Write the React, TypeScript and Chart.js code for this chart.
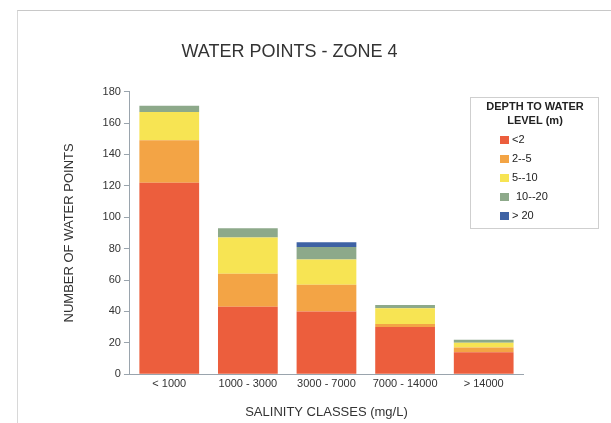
import React, { useEffect, useRef } from "react";
import { Chart, registerables } from "chart.js";

Chart.register(...registerables);

const categories = ["< 1000", "1000 - 3000", "3000 - 7000", "7000 - 14000", "> 14000"];
const seriesLabels = ["<2", "2--5", "5--10", "10--20", "> 20"];
const lessThan2 = [122, 43, 40, 30, 14];
const from2to5 = [27, 21, 17, 2, 3];
const from5to10 = [18, 23, 16, 10, 3];
const from10to20 = [4, 6, 8, 2, 2];
const moreThan20 = [0, 0, 3, 0, 0];
const seriesColors = ["#EC5E3D", "#F3A445", "#F7E453", "#8DA98A", "#3E62A4"];

const FONT = "'Liberation Sans', Arial, sans-serif";

const legendPlugin = {
  id: "floatLegend",
  afterDraw(chart: any) {
    const ctx = chart.ctx;
    const x0 = 470, y0 = 97, w = 128, h = 131;
    ctx.save();
    ctx.fillStyle = "#ffffff";
    ctx.fillRect(x0, y0, w, h);
    ctx.strokeStyle = "#cfcfcf";
    ctx.lineWidth = 1;
    ctx.strokeRect(x0 + 0.5, y0 + 0.5, w, h);
    ctx.fillStyle = "#222";
    ctx.textAlign = "center";
    ctx.textBaseline = "middle";
    ctx.font = `bold 11px ${FONT}`;
    ctx.fillText("DEPTH TO WATER", 535, 107);
    ctx.fillText("LEVEL (m)", 535, 121);
    ctx.font = `11px ${FONT}`;
    ctx.textAlign = "left";
    chart.data.datasets.forEach((ds: any, i: number) => {
      const y = 140 + i * 19;
      ctx.fillStyle = ds.backgroundColor;
      ctx.fillRect(500, y - 4, 9, 8);
      ctx.fillStyle = "#222";
      ctx.fillText(ds.label, i === 3 ? 516 : 512, y);
    });
    ctx.restore();
  },
};

export default function App() {
  const ref = useRef<HTMLCanvasElement>(null);
  useEffect(() => {
    if (!ref.current) return;
    const values = [lessThan2, from2to5, from5to10, from10to20, moreThan20];
    const chart = new Chart(ref.current, {
      type: "bar",
      data: {
        labels: categories,
        datasets: values.map((v, i) => ({
          label: seriesLabels[i],
          data: v,
          backgroundColor: seriesColors[i],
          borderWidth: 0,
          barPercentage: 0.76,
          categoryPercentage: 1,
        })),
      },
      options: {
        animation: false,
        responsive: false,
        maintainAspectRatio: false,
        layout: { padding: { top: 30, left: 56, right: 88, bottom: 3 } },
        plugins: {
          legend: { display: false },
          tooltip: { enabled: false },
          title: {
            display: true,
            text: "WATER POINTS - ZONE 4",
            color: "#333",
            font: { family: FONT, size: 18, weight: "normal" },
            padding: { top: 11, bottom: 29 },
          },
        },
        scales: {
          x: {
            stacked: true,
            grid: { display: false, drawTicks: false },
            border: { display: true, color: "#9aa4ad" },
            ticks: { color: "#333", font: { family: FONT, size: 11 }, padding: 3 },
            title: {
              display: true,
              text: "SALINITY CLASSES (mg/L)",
              color: "#333",
              font: { family: FONT, size: 13 },
              padding: { top: 11, bottom: 0 },
            },
          },
          y: {
            stacked: true,
            min: 0,
            max: 180,
            ticks: { stepSize: 20, color: "#333", font: { family: FONT, size: 11 }, padding: 3 },
            grid: { drawOnChartArea: false, drawTicks: true, tickLength: 6, color: "#9aa4ad" },
            border: { display: true, color: "#9aa4ad" },
            title: {
              display: true,
              text: "NUMBER OF WATER POINTS",
              color: "#333",
              font: { family: FONT, size: 13 },
              padding: { top: 6, bottom: 22 },
            },
          },
        },
      },
      plugins: [legendPlugin],
    });
    return () => chart.destroy();
  }, []);
  return (
    <div style={{ position: "fixed", left: 0, top: 0, width: 611, height: 423, background: "#fff" }}>
      <div style={{ position: "absolute", left: 17, top: 10, right: 0, bottom: 0, borderTop: "1px solid #c8c8c8", borderLeft: "1px solid #d8d8d8" }} />
      <canvas ref={ref} width={611} height={423} style={{ position: "absolute", left: 0, top: 0 }} />
    </div>
  );
}
